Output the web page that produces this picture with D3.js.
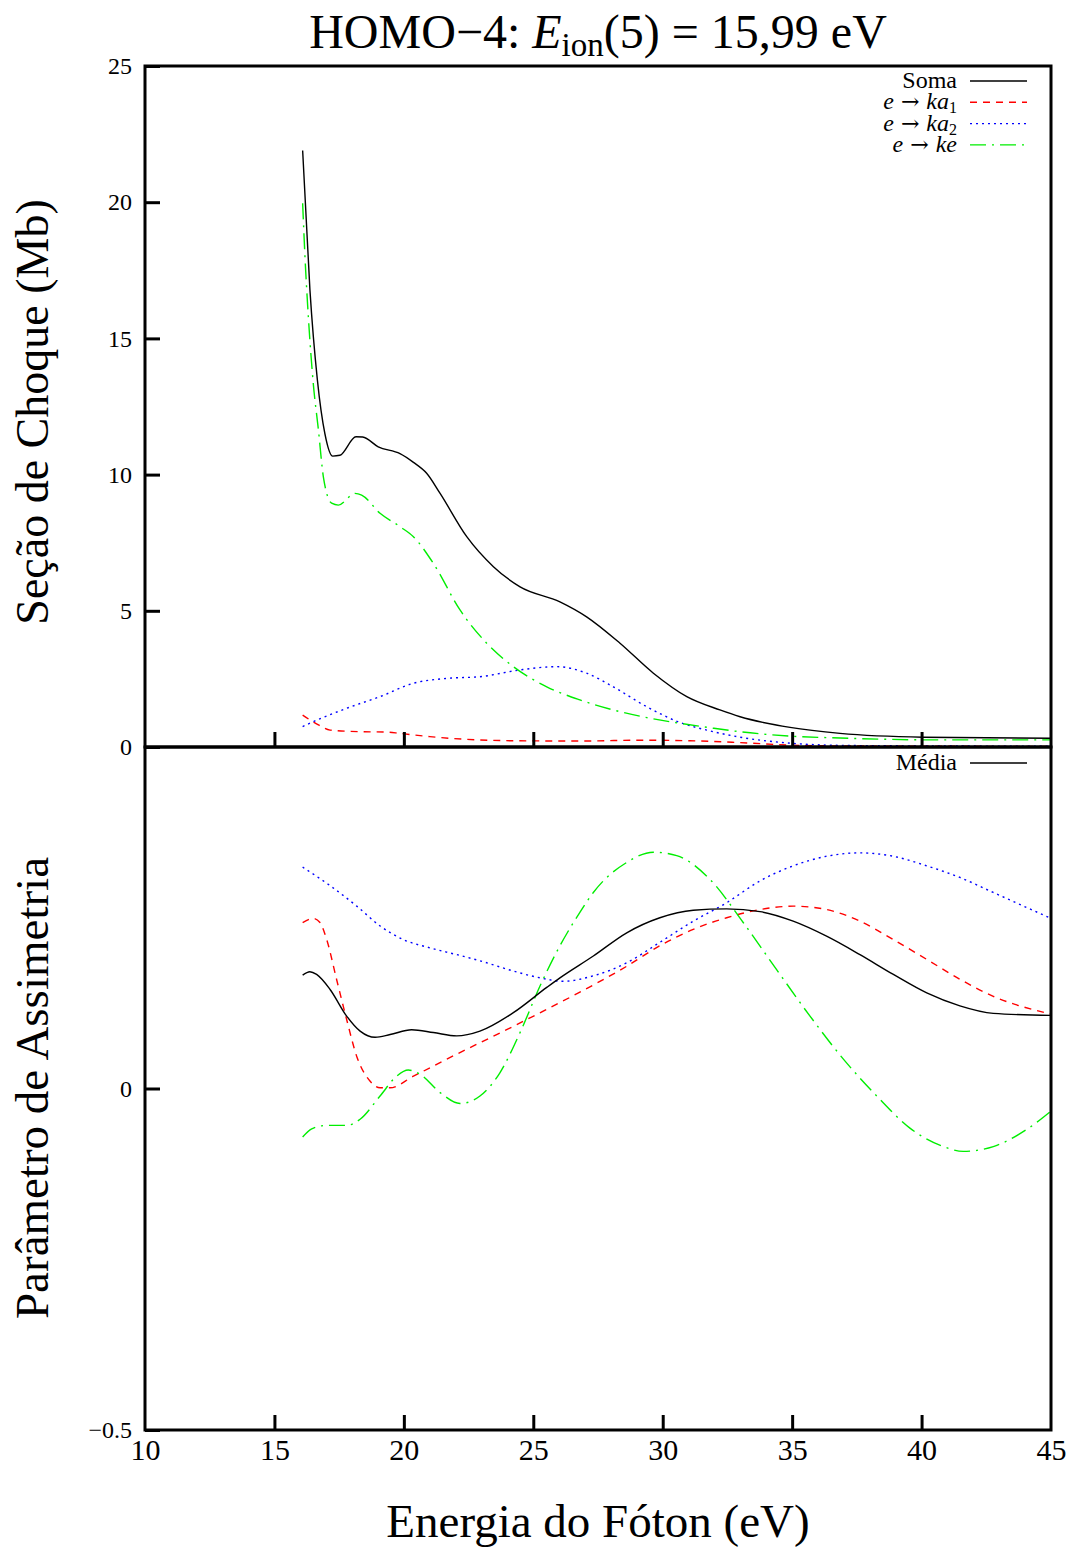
<!DOCTYPE html>
<html>
<head>
<meta charset="utf-8">
<script src="https://cdn.jsdelivr.net/npm/d3@7"></script>
<style>
  html, body { margin: 0; padding: 0; background: #fff; }
  svg text { font-family: "Liberation Serif", "DejaVu Serif", serif; fill: #000; }
</style>
</head>
<body>
<svg id="chart" width="1071" height="1549"></svg>
<script>
// ---------- DATA ----------
const xTicks = [10, 15, 20, 25, 30, 35, 40, 45];
const yTicksTop = [0, 5, 10, 15, 20, 25];
const yTicksBottom = [-0.5, 0];

// Top panel: cross sections (Mb)
const somaE = [16.09, 16.37, 16.66, 16.95, 17.25, 17.53, 18.15, 18.41, 19.01, 19.85, 20.37, 20.88, 21.4, 22.43, 23.46, 24.49, 26.03, 27.06, 28.35, 29.64, 30.93, 32.21, 32.99, 34.92, 36.85, 40.07, 45];
const somaV = [21.9, 16.8, 13.47, 11.5, 10.68, 10.71, 11.39, 11.38, 11.02, 10.77, 10.45, 10.05, 9.31, 7.72, 6.62, 5.88, 5.33, 4.78, 3.81, 2.71, 1.85, 1.36, 1.11, 0.72, 0.5, 0.36, 0.32];

const ka1E = [16.09, 16.7, 17.15, 18.43, 19.33, 19.85, 21.0, 22.43, 24.23, 26.8, 29.12, 31.05, 32.99, 34.92, 36.85, 40, 45];
const ka1V = [1.17, 0.81, 0.62, 0.56, 0.55, 0.5, 0.38, 0.28, 0.23, 0.22, 0.25, 0.23, 0.16, 0.07, 0.04, 0.03, 0.02];

const ka2E = [16.09, 16.5, 17.79, 19.08, 20.37, 21.66, 22.94, 24.49, 25.9, 27.06, 28.09, 29.38, 30.67, 31.7, 32.99, 34.92, 36.85, 40, 45];
const ka2V = [0.75, 0.93, 1.42, 1.85, 2.34, 2.52, 2.58, 2.83, 2.95, 2.71, 2.21, 1.48, 0.9, 0.62, 0.36, 0.14, 0.06, 0.04, 0.03];

const keE = [16.09, 16.18, 16.31, 16.5, 16.7, 16.89, 17.21, 17.47, 18.11, 18.37, 19.08, 19.85, 20.37, 21.14, 22.17, 23.2, 24.23, 25.52, 26.8, 28.09, 29.38, 30.67, 31.95, 32.99, 34.92, 36.85, 40.71, 45];
const keV = [19.96, 18.0, 15.8, 13.35, 11.64, 9.92, 8.95, 8.88, 9.31, 9.25, 8.58, 8.09, 7.72, 6.74, 5.03, 3.81, 2.95, 2.21, 1.73, 1.36, 1.08, 0.87, 0.69, 0.56, 0.4, 0.33, 0.26, 0.26];

// Bottom panel: asymmetry parameter
const mediaE = [16.09, 16.37, 16.63, 17.15, 17.79, 18.31, 18.89, 19.47, 20.3, 21.14, 22.04, 22.94, 24.23, 25.52, 26.03, 27.32, 28.61, 29.89, 31.18, 32.47, 33.76, 35.04, 36.33, 37.62, 38.91, 40.2, 41.48, 42.77, 45];
const mediaV = [0.166, 0.171, 0.167, 0.145, 0.106, 0.084, 0.075, 0.079, 0.086, 0.082, 0.077, 0.084, 0.111, 0.148, 0.162, 0.194, 0.228, 0.25, 0.261, 0.263, 0.259, 0.245, 0.223, 0.196, 0.167, 0.14, 0.121, 0.11, 0.107];

const bKa1E = [16.09, 16.5, 16.76, 17.02, 17.4, 17.79, 18.18, 18.69, 19.08, 19.46, 20.37, 21.66, 22.94, 24.23, 25.52, 26.8, 28.61, 29.89, 31.18, 32.47, 33.76, 35.04, 36.33, 37.62, 38.91, 40.2, 41.48, 42.77, 45];
const bKa1V = [0.243, 0.249, 0.243, 0.218, 0.16, 0.101, 0.047, 0.011, 0.001, 0.001, 0.018, 0.043, 0.067, 0.091, 0.116, 0.141, 0.179, 0.209, 0.233, 0.25, 0.262, 0.267, 0.262, 0.245, 0.218, 0.189, 0.16, 0.135, 0.109];

const bKa2E = [16.09, 17.15, 18.18, 19.08, 19.98, 21.0, 22.04, 22.94, 24.23, 25.26, 26.16, 27.32, 28.61, 29.89, 31.18, 32.47, 33.76, 35.04, 36.33, 37.62, 38.91, 40.2, 41.48, 42.77, 45];
const bKa2V = [0.324, 0.297, 0.267, 0.238, 0.218, 0.206, 0.196, 0.187, 0.172, 0.162, 0.157, 0.165, 0.184, 0.214, 0.245, 0.272, 0.304, 0.326, 0.34, 0.345, 0.34, 0.326, 0.309, 0.287, 0.249];

const bKeE = [16.09, 16.44, 17.02, 17.79, 18.31, 19.08, 19.72, 20.17, 20.62, 21.4, 22.17, 22.94, 23.71, 24.49, 25.26, 26.03, 26.8, 27.32, 28.61, 29.64, 30.54, 31.83, 33.11, 34.4, 35.69, 36.98, 38.27, 39.55, 40.84, 41.61, 42.77, 44.06, 45];
const bKeV = [-0.071, -0.059, -0.054, -0.054, -0.045, -0.011, 0.018, 0.027, 0.021, -0.006, -0.022, -0.011, 0.023, 0.082, 0.15, 0.209, 0.258, 0.287, 0.331, 0.346, 0.341, 0.306, 0.243, 0.174, 0.106, 0.043, -0.011, -0.058, -0.085, -0.092, -0.085, -0.06, -0.033];

// ---------- LAYOUT ----------
const svg = d3.select("#chart");
const L = 145, R = 1051, T1 = 66, B1 = 747, T2 = 747, B2 = 1430;

const x = d3.scaleLinear().domain([10, 45]).range([L, R]);
const yTop = d3.scaleLinear().domain([0, 25]).range([B1, T1]);
const yBot = d3.scaleLinear().domain([-0.5, 0.5]).range([B2, T2]);

const styles = {
  soma: { color: "#000000", dash: null },
  ka1:  { color: "#ff0000", dash: "7,6" },
  ka2:  { color: "#0000ff", dash: "2,4" },
  ke:   { color: "#00ee00", dash: "16,6,2,6" }
};

function drawLine(E, V, yScale, st, clipId) {
  const pts = E.map((e, i) => [e, V[i]]);
  const line = d3.line().x(d => x(d[0])).y(d => yScale(d[1])).curve(d3.curveMonotoneX);
  svg.append("path")
    .attr("d", line(pts))
    .attr("fill", "none")
    .attr("stroke", st.color)
    .attr("stroke-width", 1.4)
    .attr("stroke-dasharray", st.dash)
    .attr("clip-path", `url(#${clipId})`);
}

const defs = svg.append("defs");
defs.append("clipPath").attr("id", "clipTop").append("rect")
  .attr("x", L).attr("y", T1).attr("width", R - L).attr("height", B1 - T1);
defs.append("clipPath").attr("id", "clipBot").append("rect")
  .attr("x", L).attr("y", T2).attr("width", R - L).attr("height", B2 - T2);

// Curves: top
drawLine(ka1E, ka1V, yTop, styles.ka1, "clipTop");
drawLine(ka2E, ka2V, yTop, styles.ka2, "clipTop");
drawLine(keE, keV, yTop, styles.ke, "clipTop");
drawLine(somaE, somaV, yTop, styles.soma, "clipTop");
// Curves: bottom
drawLine(bKa1E, bKa1V, yBot, styles.ka1, "clipBot");
drawLine(bKa2E, bKa2V, yBot, styles.ka2, "clipBot");
drawLine(bKeE, bKeV, yBot, styles.ke, "clipBot");
drawLine(mediaE, mediaV, yBot, styles.soma, "clipBot");

// ---------- AXES (ticks inside) ----------
const tickLen = 15;
function xTickAxis(yPos, showLabels) {
  const g = svg.append("g").attr("transform", `translate(0,${yPos})`)
    .call(d3.axisTop(x).tickValues(xTicks.filter(t => t > 10 && t < 45)).tickSize(tickLen).tickFormat(""));
  g.select(".domain").remove();
  g.selectAll(".tick line").attr("stroke", "#000").attr("stroke-width", 3);
  if (showLabels) {
    const gl = svg.append("g").attr("transform", `translate(0,${yPos})`)
      .call(d3.axisBottom(x).tickValues(xTicks).tickSize(0).tickPadding(0).tickFormat(d3.format("d")));
    gl.select(".domain").remove();
    gl.selectAll(".tick text").attr("font-size", 30).attr("dy", 0).attr("y", 30)
      .attr("font-family", "Liberation Serif, serif");
  }
}
xTickAxis(B1, false);
xTickAxis(B2, true);

function yAxis(scale, ticks, fmt) {
  const g = svg.append("g").attr("transform", `translate(${L},0)`)
    .call(d3.axisRight(scale).tickValues(ticks).tickSize(tickLen).tickFormat(""));
  g.select(".domain").remove();
  g.selectAll(".tick line").attr("stroke", "#000").attr("stroke-width", 3);
  const gl = svg.append("g").attr("transform", `translate(${L},0)`)
    .call(d3.axisLeft(scale).tickValues(ticks).tickSize(0).tickPadding(13).tickFormat(fmt));
  gl.select(".domain").remove();
  gl.selectAll(".tick text").attr("font-size", 24).attr("font-family", "Liberation Serif, serif");
}
yAxis(yTop, yTicksTop, d3.format("d"));
yAxis(yBot, yTicksBottom, d => d === 0 ? "0" : "\u22120.5");

// Frames
svg.append("rect").attr("x", L).attr("y", T1).attr("width", R - L).attr("height", B1 - T1)
  .attr("fill", "none").attr("stroke", "#000").attr("stroke-width", 3);
svg.append("rect").attr("x", L).attr("y", T2).attr("width", R - L).attr("height", B2 - T2)
  .attr("fill", "none").attr("stroke", "#000").attr("stroke-width", 3);

// ---------- TITLE ----------
const title = svg.append("text").attr("x", 598).attr("y", 48).attr("text-anchor", "middle").attr("font-size", 48);
title.append("tspan").text("HOMO\u22124:  ");
title.append("tspan").attr("font-style", "italic").text("E");
title.append("tspan").attr("font-size", 33).attr("dy", 8).text("ion");
title.append("tspan").attr("dy", -8).text("(5) = 15,99 eV");

// Axis labels
svg.append("text").attr("transform", "translate(48,412) rotate(-90)").attr("text-anchor", "middle")
  .attr("font-size", 46).text("Seção de Choque (Mb)");
svg.append("text").attr("transform", "translate(48,1088) rotate(-90)").attr("text-anchor", "middle")
  .attr("font-size", 47).text("Parâmetro de Assimetria");
svg.append("text").attr("x", 598).attr("y", 1537).attr("text-anchor", "middle")
  .attr("font-size", 47).text("Energia do Fóton (eV)");

// ---------- LEGENDS ----------
const legTop = [
  { key: "soma", parts: [["Soma", false]] },
  { key: "ka1", parts: [["e", true], [" \u2192 ", "arrow"], ["ka", true], ["1", "sub"]] },
  { key: "ka2", parts: [["e", true], [" \u2192 ", "arrow"], ["ka", true], ["2", "sub"]] },
  { key: "ke",  parts: [["e", true], [" \u2192 ", "arrow"], ["ke", true]] }
];
function legendRow(y, item) {
  const t = svg.append("text").attr("x", 957).attr("y", y + 7).attr("text-anchor", "end").attr("font-size", 24);
  item.parts.forEach(p => {
    const s = t.append("tspan").text(p[0]);
    if (p[1] === true) s.attr("font-style", "italic");
    if (p[1] === "arrow") s.attr("font-family", "DejaVu Serif, serif").attr("font-size", 22);
    if (p[1] === "sub") s.attr("font-size", 16).attr("dy", 4);
  });
  const st = styles[item.key];
  svg.append("line").attr("x1", 970).attr("x2", 1027).attr("y1", y).attr("y2", y)
    .attr("stroke", st.color).attr("stroke-width", 1.4).attr("stroke-dasharray", st.dash);
}
legTop.forEach((it, i) => legendRow(81 + i * 21.3, it));
legendRow(763, { key: "soma", parts: [["Média", false]] });
</script>
</body>
</html>
